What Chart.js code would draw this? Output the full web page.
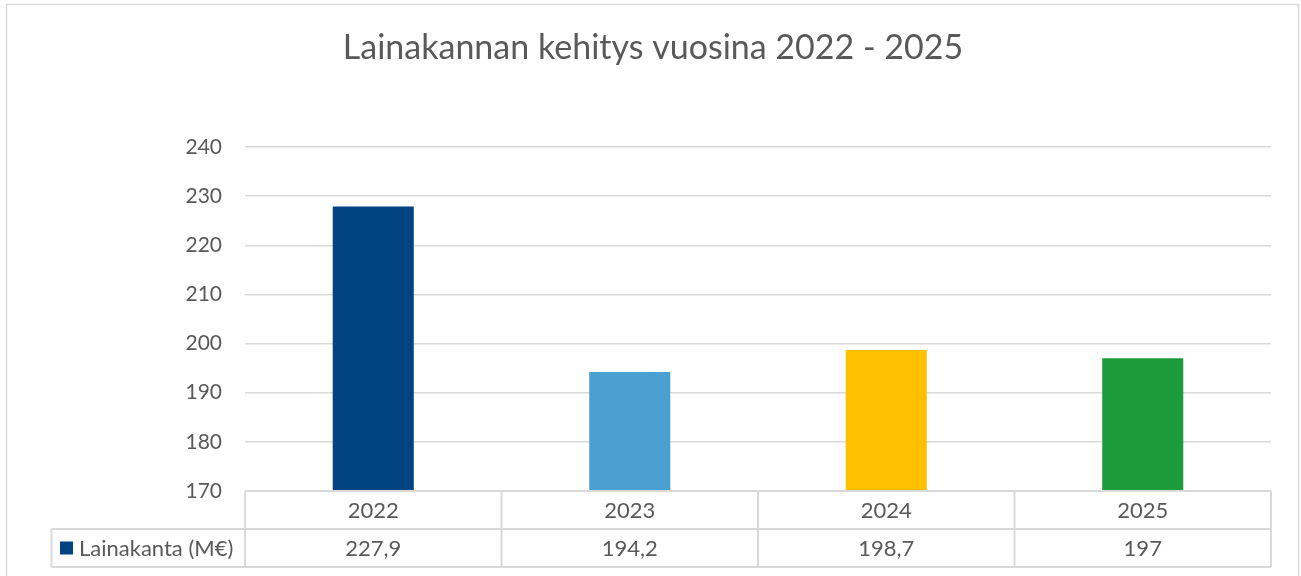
<!DOCTYPE html>
<html>
<head>
<meta charset="utf-8">
<script src="https://cdn.jsdelivr.net/npm/chart.js@4"></script>
<style>
html,body{margin:0;padding:0;background:#fff;}
#wrap{position:relative;width:1301px;height:576px;}
</style>
</head>
<body>
<div id="wrap"><canvas id="c" width="1301" height="576"></canvas></div>
<script>
const titleText = 'Lainakannan kehitys vuosina 2022 - 2025';
const categories = ['2022', '2023', '2024', '2025'];
const seriesName = 'Lainakanta (M€)';
const values = [227.9, 194.2, 198.7, 197];
const barColors = ['#004481', '#4aa1d1', '#ffc000', '#1b9b3a'];
const yMin = 170, yMax = 240, yStep = 10;

const FONT = 'Lato, "Open Sans", sans-serif';
const TXT = '#595959';
const LINE = '#d9d9d9';

const fmt = v => String(v).replace('.', ',');

const tablePlugin = {
  id: 'dataTable',
  beforeDraw(chart) {
    const ctx = chart.ctx;
    ctx.save();
    ctx.strokeStyle = LINE;
    ctx.lineWidth = 1.5;
    ctx.strokeRect(6.5, 4.5, 1292, 640);
    ctx.fillStyle = TXT;
    ctx.font = '34px ' + FONT;
    ctx.textAlign = 'center';
    ctx.textBaseline = 'middle';
    ctx.fillText(titleText, 653, 48);
    ctx.restore();
  },
  afterDraw(chart) {
    const ctx = chart.ctx;
    const xs = chart.scales.x;
    const area = chart.chartArea;
    const n = categories.length;
    const step = (area.right - area.left) / n;
    const bounds = [];
    for (let i = 0; i <= n; i++) bounds.push(area.left + i * step);
    const y0 = area.bottom, y1 = y0 + 38, y2 = y1 + 38;
    const legLeft = 51.5;
    ctx.save();
    ctx.strokeStyle = LINE;
    ctx.lineWidth = 2;
    ctx.beginPath();
    ctx.moveTo(area.left, y0); ctx.lineTo(area.right, y0);
    ctx.moveTo(legLeft, y1); ctx.lineTo(area.right, y1);
    ctx.moveTo(legLeft, y2); ctx.lineTo(area.right, y2);
    bounds.forEach(b => { ctx.moveTo(b, y0); ctx.lineTo(b, y2); });
    ctx.moveTo(legLeft, y1); ctx.lineTo(legLeft, y2);
    ctx.stroke();
    ctx.fillStyle = TXT;
    ctx.font = '22px ' + FONT;
    ctx.textAlign = 'center';
    ctx.textBaseline = 'middle';
    categories.forEach((c, i) => {
      const cx = xs.getPixelForTick(i);
      ctx.fillText(c, cx, (y0 + y1) / 2 + 1);
      ctx.fillText(fmt(values[i]), cx, (y1 + y2) / 2 + 1);
    });
    ctx.fillStyle = barColors[0];
    ctx.fillRect(60, (y1 + y2) / 2 - 6.5, 13, 13);
    ctx.fillStyle = TXT;
    ctx.textAlign = 'left';
    ctx.fillText(seriesName, 79, (y1 + y2) / 2 + 1);
    ctx.restore();
  }
};

new Chart(document.getElementById('c'), {
  type: 'bar',
  data: {
    labels: categories,
    datasets: [{
      label: seriesName,
      data: values,
      backgroundColor: barColors,
      borderWidth: 0,
      barPercentage: 0.316,
      categoryPercentage: 1
    }]
  },
  options: {
    responsive: false,
    animation: false,
    devicePixelRatio: 1,
    layout: { padding: { left: 0, right: 30, top: 147, bottom: 85 } },
    plugins: {
      legend: { display: false },
      tooltip: { enabled: false },
      title: { display: false }
    },
    scales: {
      x: { display: false },
      y: {
        min: yMin, max: yMax,
        border: { display: false },
        grid: { color: LINE, lineWidth: 1.5, drawTicks: false },
        ticks: { stepSize: yStep, color: TXT, font: { family: FONT, size: 21 }, padding: 23 },
        afterFit(scale) { scale.width = 245; }
      }
    }
  },
  plugins: [tablePlugin]
});
</script>
</body>
</html>
